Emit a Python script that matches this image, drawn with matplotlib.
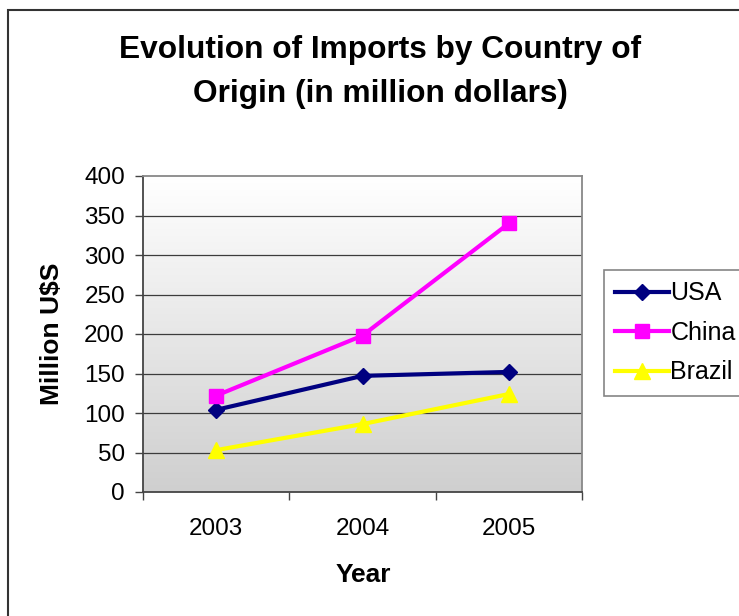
import numpy as np
import matplotlib
matplotlib.use('Agg')
import matplotlib.pyplot as plt
from matplotlib.colors import LinearSegmentedColormap
from matplotlib.patches import Rectangle

years = ['2003', '2004', '2005']
usa = [104, 147, 152]
china = [122, 198, 340]
brazil = [53, 86, 124]
y_ticks = [0, 50, 100, 150, 200, 250, 300, 350, 400]


def main():
    plt.rcParams['font.family'] = ['Liberation Sans', 'DejaVu Sans']

    fig = plt.figure(figsize=(7.39, 6.16), dpi=100)
    fig.patch.set_facecolor('white')

    # outer chart border (partly cut off at right and bottom)
    fig.patches.append(Rectangle((8 / 739, -0.05), 1.2, 1 - 10 / 616 + 0.05,
                                 transform=fig.transFigure, fill=False,
                                 edgecolor='#333333', linewidth=1.5))

    ax = fig.add_axes([143 / 739, 1 - 492 / 616, 439 / 739, 316 / 616])

    # gradient plot area
    cmap = LinearSegmentedColormap.from_list('bg', ['#ffffff', '#cfcfcf'])
    grad = np.linspace(0, 1, 256).reshape(-1, 1)
    ax.imshow(grad, cmap=cmap, extent=[0, 1, 0, 1], transform=ax.transAxes,
              aspect='auto', zorder=0, origin='upper')

    x = np.arange(len(years))
    ax.plot(x, usa, color='#000080', marker='D', markersize=8, linewidth=3,
            label='USA', zorder=3)
    ax.plot(x, china, color='#ff00ff', marker='s', markersize=10, linewidth=3,
            label='China', zorder=3)
    ax.plot(x, brazil, color='#ffff00', marker='^', markersize=11, linewidth=3,
            label='Brazil', zorder=3)

    ax.set_xlim(-0.5, 2.5)
    ax.set_ylim(0, 400)
    ax.set_yticks(y_ticks)
    ax.set_yticklabels([str(v) for v in y_ticks])
    ax.set_xticks(x)
    ax.set_xticklabels(years)
    ax.set_xticks([-0.5, 0.5, 1.5, 2.5], minor=True)

    ax.tick_params(axis='x', which='major', length=0, pad=19, labelsize=17.5)
    ax.tick_params(axis='x', which='minor', length=6, width=1, color='#444444',
                   direction='out')
    ax.tick_params(axis='y', length=6, width=1, color='#444444', pad=7,
                   labelsize=17.5, direction='out')

    for yv in y_ticks[1:-1]:
        ax.axhline(yv, color='#3c3c3c', linewidth=0.9, zorder=1)

    for side in ['left', 'bottom']:
        ax.spines[side].set_color('#444444')
        ax.spines[side].set_linewidth(1.3)
    for side in ['top', 'right']:
        ax.spines[side].set_color('#888888')
        ax.spines[side].set_linewidth(1.3)

    fig.text(380 / 739, 1 - 72 / 616,
             'Evolution of Imports by Country of\nOrigin (in million dollars)',
             ha='center', va='center', fontsize=22.8, fontweight='bold',
             linespacing=1.6)
    fig.text(363 / 739, 1 - 575 / 616, 'Year', ha='center', va='center',
             fontsize=19, fontweight='bold')
    fig.text(52 / 739, 1 - 334 / 616, 'Million U$S', ha='center', va='center',
             fontsize=19, fontweight='bold', rotation=90)

    leg = fig.legend(loc='upper left', bbox_to_anchor=(604 / 739, 1 - 270 / 616),
                     fontsize=18, frameon=True, fancybox=False, handlelength=2.15,
                     handletextpad=0.05, borderpad=0.45, labelspacing=0.62,
                     borderaxespad=0)
    leg.get_frame().set_edgecolor('#666666')
    leg.get_frame().set_linewidth(1.2)

    fig.savefig('out.png', dpi=100)


if __name__ == '__main__':
    main()
